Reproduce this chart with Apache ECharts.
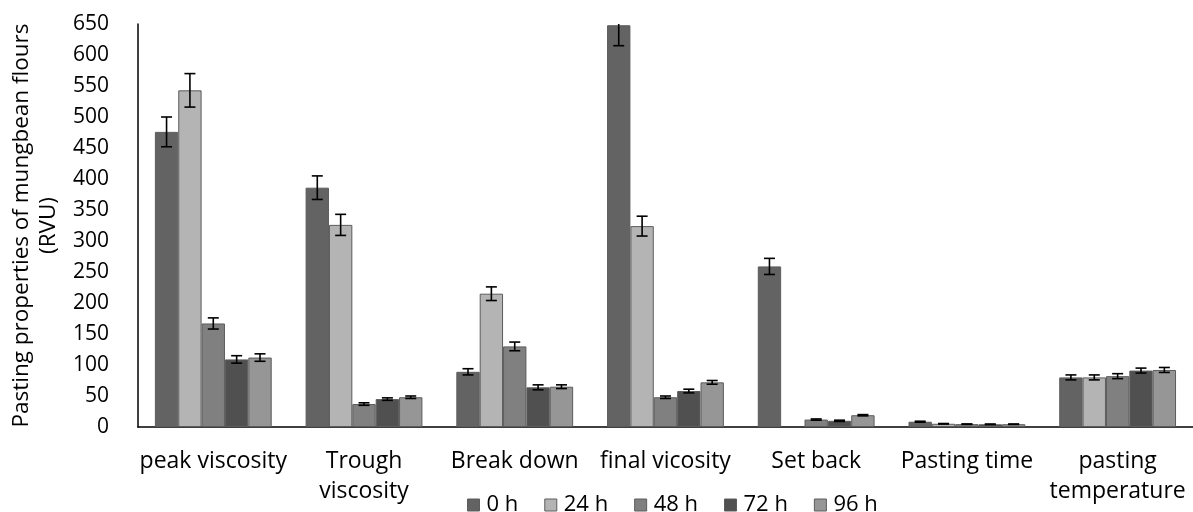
<!DOCTYPE html>
<html>
<head>
<meta charset="utf-8">
<script src="https://cdn.jsdelivr.net/npm/echarts@6/dist/echarts.min.js"></script>
<style>html,body{margin:0;padding:0;background:#fff}#c{width:1193px;height:512px}</style>
</head>
<body>
<div id="c"></div>
<script>
const categories = ['peak viscosity', 'Trough\nviscosity', 'Break down', 'final vicosity', 'Set back', 'Pasting time', 'pasting\ntemperature'];
const seriesNames = ['0 h', '24 h', '48 h', '72 h', '96 h'];
const v0h  = [476, 386, 89, 648, 259, 8.5, 80];
const v24h = [543, 326, 215, 324, -2, 5.2, 80];
const v48h = [167, 37, 130, 48, 12, 4.6, 82];
const v72h = [109, 45, 64, 58, 10, 4.4, 91];
const v96h = [112, 48, 65, 72, 19, 4.5, 92];
const e0h  = [24, 19, 5, 33, 13, 0.8, 4];
const e24h = [27, 17, 11, 16, 0.5, 0.4, 4];
const e48h = [9, 2, 7, 2, 1, 0.3, 4];
const e72h = [6, 2, 4, 3, 1, 0.3, 4];
const e96h = [6, 2, 3, 3, 1, 0.3, 4];
const yTicks = [0, 650, 50];
const colors = ['#636363', '#b4b4b4', '#808080', '#505050', '#969696'];

const values = [v0h, v24h, v48h, v72h, v96h];
const errors = [e0h, e24h, e48h, e72h, e96h];
const FONT = 'Open Sans';
const BAR_FRAC = 0.155;

const series = [];
values.forEach((vals, i) => {
  series.push({
    name: seriesNames[i], type: 'bar', data: vals,
    barWidth: (BAR_FRAC * 100) + '%', barGap: '0%',
    itemStyle: { color: colors[i], borderColor: '#5c5c5c', borderWidth: 1 },
    z: 2
  });
});
values.forEach((vals, i) => {
  series.push({
    type: 'custom', name: seriesNames[i] + ' err', z: 5, silent: true,
    clip: true,
    data: vals.map((v, j) => [j, v, errors[i][j]]),
    renderItem: function (params, api) {
      const x = api.value(0), v = api.value(1), e = api.value(2);
      const band = api.size([1, 0])[0];
      const off = (i - 2) * BAR_FRAC * band;
      const top = api.coord([x, v + e]);
      const bot = api.coord([x, v - e]);
      const cx = top[0] + off;
      const cap = 5.5;
      const st = { stroke: '#000', lineWidth: 1.6 };
      return { type: 'group', children: [
        { type: 'line', shape: { x1: cx, y1: top[1], x2: cx, y2: bot[1] }, style: st },
        { type: 'line', shape: { x1: cx - cap, y1: top[1], x2: cx + cap, y2: top[1] }, style: st },
        { type: 'line', shape: { x1: cx - cap, y1: bot[1], x2: cx + cap, y2: bot[1] }, style: st }
      ]};
    }
  });
});

const chart = echarts.init(document.getElementById('c'));
chart.setOption({
  animation: false,
  color: colors,
  grid: { left: 131, top: 24, width: 1072, height: 403 },
  legend: {
    data: seriesNames, left: 462, top: 488, icon: 'rect',
    itemWidth: 12, itemHeight: 12, itemGap: 26,
    itemStyle: { borderColor: '#5c5c5c', borderWidth: 1 },
    textStyle: { fontFamily: FONT, fontSize: 22, color: '#000', padding: [0, 0, 0, 2], lineHeight: 24 }
  },
  xAxis: {
    type: 'category', data: categories,
    axisLine: { lineStyle: { color: '#000', width: 1.5 } },
    axisTick: { show: false },
    axisLabel: { fontFamily: FONT, fontSize: 23, color: '#000', margin: 19, lineHeight: 30, interval: 0 }
  },
  yAxis: {
    type: 'value', min: yTicks[0], max: yTicks[1], interval: yTicks[2],
    name: 'Pasting properties of mungbean flours\n(RVU)',
    nameLocation: 'middle', nameGap: 63, nameRotate: 90,
    nameTextStyle: { fontFamily: FONT, fontSize: 22.5, color: '#000', lineHeight: 27 },
    axisLine: { show: true, lineStyle: { color: '#000', width: 1.5 } },
    axisTick: { show: false },
    splitLine: { show: false },
    axisLabel: { fontFamily: FONT, fontSize: 21, color: '#000', margin: 29 }
  },
  series: series
});
</script>
</body>
</html>
